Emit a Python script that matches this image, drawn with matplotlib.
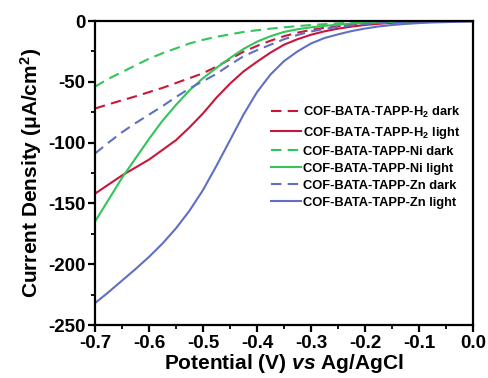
import numpy as np
import matplotlib
matplotlib.use('Agg')
import matplotlib.pyplot as plt
from matplotlib.ticker import MultipleLocator

plt.rcParams['font.family'] = ['Liberation Sans', 'DejaVu Sans']
plt.rcParams['font.weight'] = 'bold'
plt.rcParams['axes.unicode_minus'] = False
plt.rcParams['mathtext.fontset'] = 'custom'
plt.rcParams['mathtext.rm'] = 'Liberation Sans:bold'
plt.rcParams['mathtext.bf'] = 'Liberation Sans:bold'
plt.rcParams['mathtext.it'] = 'Liberation Sans:bold:italic'

# potential (V vs Ag/AgCl)
potential = [-0.700, -0.675, -0.650, -0.625, -0.600, -0.575, -0.550, -0.525, -0.500, -0.475,
             -0.450, -0.425, -0.400, -0.375, -0.350, -0.325, -0.300, -0.275, -0.250, -0.225,
             -0.200, -0.175, -0.150, -0.125, -0.100, -0.075, -0.050, -0.025, 0.000]

# current density (uA/cm2)
h2_dark = [-72, -68.5, -65.2, -62, -58.5, -55, -51, -47, -43, -37.5,
           -31.5, -25.2, -20.5, -16.2, -12.5, -9.6, -7.3, -5.6, -4.3, -3.2,
           -2.4, -1.7, -1.2, -0.8, -0.5, -0.3, -0.15, -0.05, 0]
h2_light = [-142, -134.5, -127, -120.5, -114, -106, -98, -87.5, -76, -63,
            -51.5, -41.5, -33.5, -26, -19.5, -15, -11.3, -8.5, -6.3, -4.6,
            -3.3, -2.3, -1.5, -1.0, -0.6, -0.3, -0.15, -0.05, 0]
ni_dark = [-54, -47.5, -42, -36.5, -31, -26.5, -22.5, -18.5, -15.5, -13,
           -11, -9, -7.6, -6.3, -5.2, -4.2, -3.3, -2.6, -2.0, -1.5,
           -1.1, -0.8, -0.55, -0.35, -0.2, -0.1, -0.05, 0, 0]
ni_light = [-165, -147, -129, -113, -97, -82, -69, -57, -47, -38.5,
            -30.5, -23, -17, -12.5, -9, -6.8, -5.2, -4, -3, -2.2,
            -1.6, -1.1, -0.7, -0.45, -0.25, -0.12, -0.05, 0, 0]
zn_dark = [-109, -100, -91.5, -84, -77, -70, -62.5, -55.5, -49.5, -43.5,
           -36, -29, -24, -19.5, -15, -11.5, -8.6, -6.5, -4.8, -3.5,
           -2.5, -1.8, -1.2, -0.8, -0.5, -0.3, -0.15, -0.05, 0]
zn_light = [-232, -223, -213.5, -204, -194, -183, -170.5, -156, -139, -119,
            -98, -77, -58.5, -44, -33, -25, -18.5, -14, -11, -8.3,
            -6.2, -4.5, -3.3, -2.4, -1.7, -1.2, -0.9, -0.6, -0.4]

labels = ['COF-BATA-TAPP-H$_2$ dark', 'COF-BATA-TAPP-H$_2$ light',
          'COF-BATA-TAPP-Ni dark', 'COF-BATA-TAPP-Ni light',
          'COF-BATA-TAPP-Zn dark', 'COF-BATA-TAPP-Zn light']

red = '#c8173a'
green = '#33c45a'
blue = '#5f70c4'

fig = plt.figure(figsize=(4.88, 3.78), dpi=100)
ax = fig.add_axes([95 / 488, 1 - 325 / 378, 378 / 488, 304 / 378])

dash = (5, 3)
ax.plot(potential, h2_dark, color=red, lw=1.5, dashes=dash, label=labels[0])
ax.plot(potential, h2_light, color=red, lw=1.5, label=labels[1])
ax.plot(potential, ni_dark, color=green, lw=1.5, dashes=dash, label=labels[2])
ax.plot(potential, ni_light, color=green, lw=1.5, label=labels[3])
ax.plot(potential, zn_dark, color=blue, lw=1.5, dashes=dash, label=labels[4])
ax.plot(potential, zn_light, color=blue, lw=1.5, label=labels[5])

ax.set_xlim(-0.7, 0.0)
ax.set_ylim(-250, 0)
ax.xaxis.set_major_locator(MultipleLocator(0.1))
ax.xaxis.set_minor_locator(MultipleLocator(0.05))
ax.yaxis.set_major_locator(MultipleLocator(50))
ax.yaxis.set_minor_locator(MultipleLocator(25))
ax.xaxis.set_major_formatter(plt.FuncFormatter(lambda v, p: f'{v:.1f}'))

for s in ax.spines.values():
    s.set_linewidth(1.6)
ax.tick_params(which='major', direction='out', length=5, width=1.6, labelsize=13.5, pad=2)
ax.tick_params(which='minor', direction='out', length=3, width=1.3)
for lab in ax.get_xticklabels() + ax.get_yticklabels():
    lab.set_fontweight('bold')

ax.set_xlabel('Potential (V) $vs$ Ag/AgCl', fontsize=15, fontweight='bold', labelpad=0)
ax.set_ylabel('Current Density (μA/cm$^2$)', fontsize=15, fontweight='bold', labelpad=3)

leg = ax.legend(loc='upper left', bbox_to_anchor=(271 / 488, 1 - 105 / 378),
                bbox_transform=fig.transFigure, frameon=False,
                prop={'size': 9.3, 'weight': 'bold'}, handlelength=2.3,
                handletextpad=0.2, labelspacing=0.38, borderpad=0, borderaxespad=0)

fig.savefig('out.png', dpi=100)
